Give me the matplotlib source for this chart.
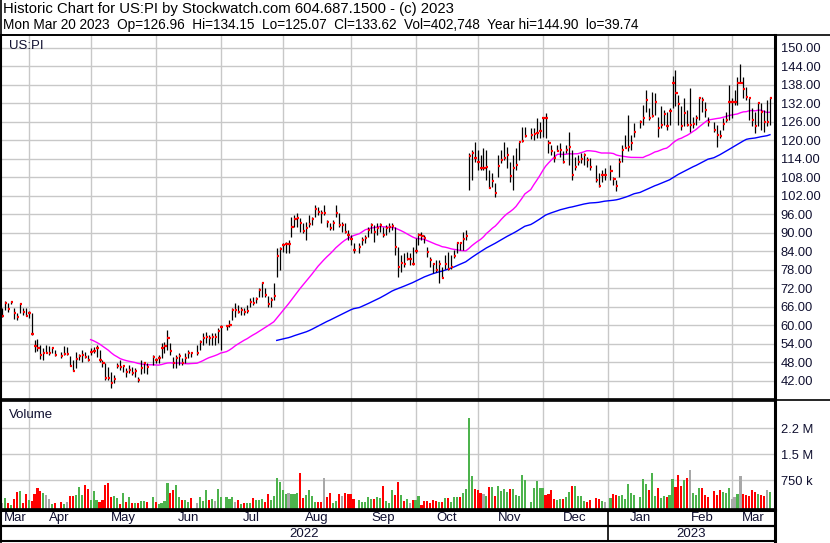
import numpy as np
import pandas as pd
import matplotlib
matplotlib.use('Agg')
import matplotlib.pyplot as plt
from matplotlib.lines import Line2D

plt.rcParams['font.family'] = ['Liberation Sans', 'DejaVu Sans']
plt.rcParams['font.size'] = 9

# ---------------- data ----------------
holidays = ['2022-04-15', '2022-05-30', '2022-06-20', '2022-07-04', '2022-09-05',
            '2022-11-24', '2022-12-26', '2023-01-02', '2023-01-16', '2023-02-20']

hi = [65.5, 68.0, 67.1, 68.0, 65.5, 63.9, 67.3, 65.5, 65.6, 64.5, 64.0, 55.2, 55.4, 53.6, 52.5, 53.6,
      53.2, 53.0, 52.0, 51.4, 53.2, 53.0, 50.0, 48.7, 51.4, 50.7, 52.0, 51.4, 50.3, 52.5, 53.0, 53.6,
      52.0, 48.7, 47.6, 46.3, 44.9, 43.8, 47.6, 48.7, 47.1, 46.0, 47.1, 46.5, 46.0, 43.3,
      48.7, 48.1, 47.6, 50.3, 49.2, 50.3, 54.1, 54.7, 58.4, 54.1, 49.8, 50.3, 50.9, 49.2, 50.9, 52.0,
      51.4, 53.6, 55.2, 57.4, 57.9, 56.8, 57.4, 57.4, 59.0, 60.0, 60.0, 61.7, 65.5, 67.1, 66.6, 66.0,
      65.5, 66.6, 68.7, 69.3, 69.3, 72.0, 74.1, 72.0,
      69.5, 69.3, 73.6, 85.0, 85.5, 86.6, 87.1, 87.7, 95.2, 95.8, 96.3, 94.7, 93.1, 93.6, 95.8, 95.2,
      99.0, 98.5, 97.4, 99.0, 94.2, 93.1, 94.2, 99.0, 96.3, 93.6, 93.1, 90.9, 89.3, 86.6, 86.6, 88.7,
      89.3, 92.0, 93.1, 92.5, 93.1, 93.1, 92.0, 92.5, 93.1,
      93.1, 92.0, 85.5, 82.8, 83.3, 83.9, 83.3, 85.5, 88.2, 89.8, 90.4, 89.3, 85.5, 82.2, 80.1, 81.1,
      81.1, 79.0, 82.8, 83.9, 82.8, 84.4, 87.1, 87.1, 90.4, 90.9, 115.8, 116.9, 119.6, 116.9, 115.2,
      117.4, 116.9, 110.4, 109.3, 106.0, 115.2, 116.9, 119.6, 118.0, 113.1, 115.2, 117.4, 119.6, 124.4,
      124.4,
      124.0, 123.9, 127.2, 126.1, 127.7, 128.8, 120.1, 118.5, 116.4, 118.5, 119.0, 116.4, 118.5, 122.8,
      116.9, 114.7, 115.2, 115.8, 115.8, 114.7, 114.2, 112.0, 109.3, 110.4, 110.9, 112.0, 108.2, 107.1,
      114.2, 118.5, 121.8, 128.2, 121.8, 125.5, 126.6, 131.5, 136.4, 130.4,
      135.8, 135.3, 127.7, 131.0, 129.9, 129.3, 130.4, 140.9, 142.9, 134.7, 131.0, 133.7, 129.9, 136.9,
      127.7, 128.3, 134.2, 134.2, 132.6, 127.7, 126.1, 125.0, 123.4, 127.2, 129.3, 138.0, 133.7, 136.4,
      140.7, 144.9, 140.7, 137.4, 133.7, 130.4, 129.3, 132.6, 132.0, 129.9, 133.1, 134.15]

lo = [62.5, 65.0, 64.4, 66.9, 61.9, 61.7, 63.9, 63.4, 63.0, 62.3, 56.8, 51.4, 51.7, 49.0, 48.7, 50.9,
      50.3, 51.1, 50.0, 49.3, 50.3, 50.3, 46.6, 45.0, 46.0, 48.7, 48.2, 49.3, 48.5, 50.3, 51.1, 49.8,
      48.2, 46.3, 42.2, 42.2, 39.74, 41.1, 46.0, 45.5, 44.9, 43.3, 44.4, 43.8, 43.3, 41.7,
      44.0, 44.5, 44.3, 47.1, 47.6, 47.6, 49.2, 50.9, 52.0, 50.3, 46.0, 46.0, 47.1, 47.1, 47.6, 49.2,
      49.8, 50.3, 52.0, 53.6, 54.1, 53.6, 53.6, 53.6, 54.1, 52.0, 58.5, 59.5, 61.7, 62.8, 63.9, 63.3,
      63.3, 63.9, 66.0, 66.6, 67.1, 69.3, 69.3, 69.3,
      65.8, 66.0, 68.2, 75.8, 77.9, 83.9, 83.3, 83.3, 88.7, 92.0, 92.0, 90.4, 89.8, 87.7, 92.0, 92.5,
      95.2, 95.8, 93.1, 95.8, 92.0, 90.9, 90.9, 95.2, 92.0, 90.4, 89.8, 87.7, 86.0, 83.3, 83.3, 86.0,
      86.6, 88.7, 89.8, 87.1, 89.3, 90.4, 88.7, 89.3, 90.4,
      90.9, 82.8, 75.7, 77.4, 79.0, 81.2, 79.5, 79.5, 83.3, 86.0, 87.7, 86.6, 82.2, 79.0, 76.8, 77.4,
      73.6, 75.2, 78.4, 77.9, 78.4, 81.7, 83.3, 84.4, 84.4, 87.7, 103.9, 107.1, 113.1, 110.4, 110.4,
      110.4, 107.1, 104.4, 105.0, 101.5, 108.2, 112.5, 113.6, 110.9, 106.6, 103.9, 110.4, 113.6, 119.6,
      121.2,
      120.5, 120.1, 120.7, 120.7, 121.2, 120.7, 115.8, 115.2, 113.1, 116.4, 114.7, 112.6, 115.8, 112.0,
      107.1, 110.4, 112.0, 112.6, 112.0, 111.5, 110.4, 106.6, 105.0, 106.6, 107.1, 107.1, 105.5, 103.4,
      108.2, 113.1, 117.4, 116.4, 116.9, 121.2, 123.9, 125.0, 129.3, 126.6,
      127.7, 128.3, 121.2, 123.9, 125.0, 123.4, 125.0, 130.4, 131.0, 125.0, 123.4, 124.5, 124.5, 122.8,
      123.9, 125.0, 126.6, 129.3, 127.7, 124.5, 122.8, 118.0, 120.7, 123.4, 126.1, 126.6, 127.2, 131.5,
      131.5, 138.5, 133.7, 133.1, 126.6, 124.5, 122.3, 124.5, 123.4, 122.8, 124.5, 125.07]

cl = [63.1, 67.3, 65.2, 67.6, 64.1, 62.5, 66.8, 64.2, 63.1, 64.0, 57.0, 53.3, 52.5, 50.3, 51.1, 51.1,
      51.1, 52.5, 50.3, 50.0, 50.7, 50.7, 46.8, 45.2, 48.9, 50.0, 50.3, 49.6, 48.7, 51.4, 51.7, 52.5,
      48.7, 47.6, 43.0, 42.8, 41.1, 42.4, 46.7, 46.3, 46.7, 44.9, 45.5, 44.6, 45.2, 42.2,
      46.0, 47.8, 46.5, 49.8, 48.7, 49.5, 52.5, 53.4, 55.7, 51.6, 47.8, 49.2, 50.1, 47.6, 49.2, 51.1,
      50.9, 50.9, 54.7, 55.7, 56.1, 56.0, 56.3, 56.3, 58.2, 59.3, 59.8, 60.0, 64.9, 64.9, 64.4, 64.9,
      64.4, 64.7, 67.6, 67.1, 68.4, 71.4, 73.6, 69.8,
      66.9, 68.2, 69.5, 82.6, 84.6, 86.0, 86.3, 86.3, 92.0, 94.4, 94.7, 93.1, 90.7, 91.5, 92.9, 94.4,
      97.6, 96.9, 96.3, 96.3, 93.6, 91.5, 93.1, 96.3, 92.5, 92.5, 90.4, 89.3, 87.9, 84.4, 85.5, 87.7,
      88.2, 90.9, 92.5, 90.4, 91.5, 92.5, 89.3, 91.5, 92.0,
      92.2, 85.5, 79.0, 80.1, 79.9, 81.4, 81.4, 79.9, 84.2, 89.3, 89.0, 88.2, 83.9, 81.1, 79.8, 77.9,
      79.8, 75.4, 79.8, 78.4, 79.0, 82.6, 86.8, 86.6, 87.9, 89.0, 114.9, 116.0, 114.2, 113.1, 110.9,
      110.9, 111.5, 104.4, 106.9, 103.0, 111.7, 113.6, 114.2, 115.3, 108.4, 110.9, 112.0, 119.6, 119.8,
      121.5,
      121.8, 122.0, 122.3, 123.1, 127.4, 127.2, 119.3, 116.7, 114.2, 116.7, 116.9, 113.1, 116.9, 117.8,
      108.8, 111.5, 113.1, 114.0, 115.3, 113.6, 111.5, 107.1, 105.3, 108.8, 108.8, 109.9, 107.4, 105.2,
      113.1, 116.9, 117.4, 118.0, 119.3, 122.8, 126.1, 127.4, 133.1, 127.4,
      127.9, 132.3, 124.1, 125.0, 128.5, 124.5, 129.5, 138.5, 135.3, 131.7, 124.7, 128.8, 125.0, 125.0,
      125.3, 127.4, 133.7, 133.1, 129.7, 126.1, 123.4, 121.7, 121.4, 125.3, 126.6, 132.3, 132.3, 132.3,
      138.7, 138.7, 136.6, 134.2, 133.7, 126.6, 124.7, 132.0, 129.3, 125.8, 125.8, 133.62]

# volume in thousands of shares
vol = [87, 240, 106, 38, 212, 413, 452, 96, 356, 192, 154, 356, 529, 452, 385, 327, 212, 67, 96, 125,
       67, 125, 298, 298, 327, 558, 327, 615, 500, 183, 442, 183, 125, 183, 615, 673, 269, 298, 240, 67,
       385, 125, 269, 96, 96, 96, 154, 154, 125, 269, 125, 67, 96, 154, 673, 385, 471, 615, 269, 183,
       183, 125, 240, 96, 269, 154, 471, 183, 212, 154, 500, 269, 269, 212, 269, 125, 183, 67, 96, 96,
       96, 240, 183, 183, 212, 125, 356, 183, 298, 817, 702,
       471, 356, 385, 356, 356, 385, 962, 240, 327, 471, 298, 125, 125, 125, 817, 269, 385, 96, 154, 356,
       298, 385, 356, 356, 212, 183, 125, 125, 269, 212, 212, 269, 240, 587, 154, 96, 471, 327, 702,
       327, 154, 212, 96, 183, 183, 298, 38, 154, 154, 96, 183, 154, 125, 125, 240, 240, 125, 269, 269,
       269, 385, 500, 2548, 875, 500, 471, 385, 356, 298, 558, 558, 298, 587, 442, 500, 413, 500, 500,
       327, 298, 904, 760,
       125, 529, 731, 529, 529, 327, 356, 471, 212, 183, 212, 212, 269, 413, 587, 587, 298, 298, 154,
       125, 183, 240, 212, 154, 125, 240, 356, 327, 298, 327, 212, 644, 385, 327, 269, 788, 644, 471,
       962, 298, 529, 240, 298, 269, 327, 788, 558, 904, 587, 760, 817, 1048, 385, 327, 529, 529, 327,
       269, 442, 327, 471, 413, 385, 529, 212, 269, 356, 875, 356, 327, 298, 471, 413, 356, 327, 298,
       471, 403]

price_ticks = list(range(42, 151, 6))
vol_ticks = [0.75, 1.5, 2.25]
vol_labels = ['750 k', '1.5 M', '2.2 M']
month_names = ['Mar', 'Apr', 'May', 'Jun', 'Jul', 'Aug', 'Sep', 'Oct', 'Nov', 'Dec', 'Jan', 'Feb', 'Mar']
year_names = ['2022', '2023']
title1 = 'Historic Chart for US:PI by Stockwatch.com 604.687.1500 - (c) 2023'
title2 = ('Mon Mar 20 2023  Op=126.96  Hi=134.15  Lo=125.07  Cl=133.62  '
          'Vol=402,748  Year hi=144.90  lo=39.74')

# ---------------- positions on a weekday axis (holidays left empty) ----------------
weekdays = pd.bdate_range('2022-03-21', '2023-03-20')
trade = weekdays[~weekdays.isin(pd.to_datetime(holidays))]
n = min(len(trade), len(hi), len(lo), len(cl), len(vol))
x = weekdays.get_indexer(trade)[:n]
hi = np.array(hi[:n]); lo = np.array(lo[:n]); cl = np.array(cl[:n])
vol = np.array(vol[:n]) / 1000.0

ma30 = pd.Series(cl).rolling(30).mean()
ma90 = pd.Series(cl).rolling(90).mean()

chg = np.diff(cl, prepend=cl[0])
vcol = np.where(chg > 0, '#4db34d', np.where(chg < 0, '#ff0000', '#a8a8a8'))

mstart = [i for i in range(1, len(weekdays)) if weekdays[i].month != weekdays[i - 1].month]

# ---------------- figure ----------------
W, H = 830, 543
fig = plt.figure(figsize=(W / 100, H / 100), dpi=100)
fig.patch.set_facecolor('white')


def box(x0, y0, x1, y1):
    return [x0 / W, 1 - y1 / H, (x1 - x0) / W, (y1 - y0) / H]


XL = (-0.35, 261.7)
GRID = '#c8c8c8'
TXT = '#101030'

ax = fig.add_axes(box(1, 35, 775, 399))
axv = fig.add_axes(box(1, 401, 775, 509))
axb = fig.add_axes(box(1, 510, 775, 541))

# price panel
ax.set_xlim(*XL)
ax.set_ylim(36.04, 154.2)
ax.set_yticks(price_ticks)
ax.set_yticklabels([f'{v:.2f}' for v in price_ticks])
ax.yaxis.tick_right()
ax.tick_params(axis='y', length=0, pad=4, labelsize=9.3, labelcolor=TXT)
ax.set_xticks([m for m in mstart])
ax.tick_params(axis='x', length=0, labelbottom=False)
ax.grid(True, color=GRID, lw=1.0)
ax.set_axisbelow(True)

ax.plot(x, ma90, color='#0000ff', lw=1.0)
ax.plot(x, ma30, color='#ff00ff', lw=1.0)
ax.vlines(x, lo, hi, color='black', lw=0.9)
ax.hlines(cl, x - 0.05, x + 0.7, color='#ff0000', lw=1.6)
ax.text(0.01, 0.985, 'US:PI', transform=ax.transAxes, ha='left', va='top', fontsize=9.5, color=TXT)

# volume panel
vbase = -0.08
axv.set_xlim(*XL)
axv.set_ylim(vbase, 3.04)
axv.set_yticks(vol_ticks)
axv.set_yticklabels(vol_labels)
axv.yaxis.tick_right()
axv.tick_params(axis='y', length=0, pad=4, labelsize=9.3, labelcolor=TXT)
axv.set_xticks([m for m in mstart])
axv.tick_params(axis='x', length=0, labelbottom=False)
axv.grid(True, color=GRID, lw=1.0)
axv.set_axisbelow(True)
axv.bar(x, vol - vbase, bottom=vbase, width=0.72, color=vcol, linewidth=0)
axv.text(0.01, 0.93, 'Volume', transform=axv.transAxes, ha='left', va='top', fontsize=9.5, color=TXT)

for a in (ax, axv):
    for s in a.spines.values():
        s.set_color('black')
    a.spines['left'].set_linewidth(1.5)
    a.spines['right'].set_linewidth(2.2)
    a.spines['top'].set_linewidth(1.2)
    a.spines['bottom'].set_linewidth(1.2)

# date strip
axb.set_xlim(*XL)
axb.set_ylim(0, 2)
axb.set_xticks([])
axb.set_yticks([])
for s in axb.spines.values():
    s.set_color('black')
    s.set_linewidth(1.5)
axb.spines['top'].set_linewidth(2.2)
axb.spines['right'].set_linewidth(2.2)
axb.axhline(1.0, color='black', lw=1.6)
edges = [XL[0]] + mstart + [XL[1]]
for i, name in enumerate(month_names):
    axb.text((edges[i] + edges[i + 1]) / 2, 1.47, name, ha='center', va='center', fontsize=9.5, color=TXT)
jan = mstart[9]
axb.vlines(jan, 0, 2, color='black', lw=1.2)
axb.text((XL[0] + jan) / 2, 0.45, year_names[0], ha='center', va='center', fontsize=9.5, color=TXT)
axb.text((jan + XL[1]) / 2, 0.45, year_names[1], ha='center', va='center', fontsize=9.5, color=TXT)

# header and separators
fig.text(3 / W, 1 - 9.5 / H, title1, ha='left', va='center', fontsize=10.7, color='black')
fig.text(3 / W, 1 - 25 / H, title2, ha='left', va='center', fontsize=9.8, color='black')
fig.add_artist(Line2D([0, 1], [1 - 35 / H, 1 - 35 / H], color='black', lw=1.2))
fig.add_artist(Line2D([0, 1], [1 - 400 / H, 1 - 400 / H], color='black', lw=1.2))
fig.add_artist(Line2D([0.5 / W, 0.5 / W], [0, 1], color='black', lw=1.2))

fig.savefig('out.png', dpi=100)
